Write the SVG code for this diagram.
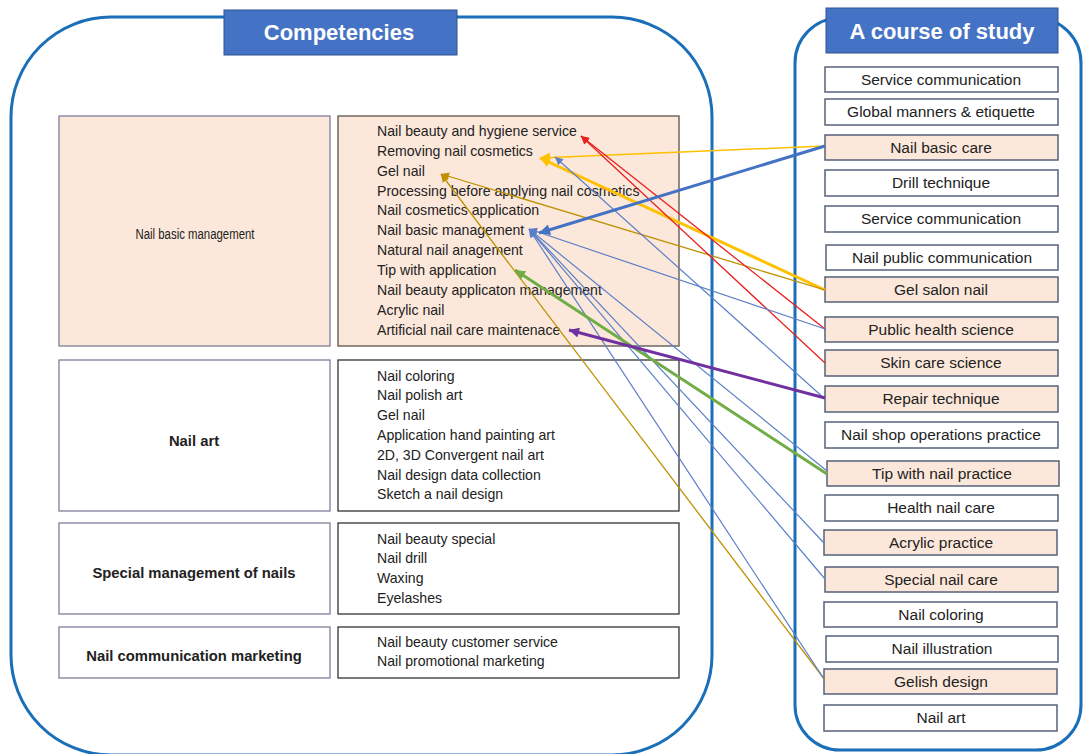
<svg xmlns="http://www.w3.org/2000/svg" width="1084" height="754" viewBox="0 0 1084 754">
<style>
text{font-family:"Liberation Sans",Arial,sans-serif;fill:#222}
.cont{fill:none;stroke:#1a6fb8;stroke-width:3}
.hdr{fill:#4472c4;stroke:#2f528f;stroke-width:1}
.hdrt{fill:#fff;font-weight:bold;font-size:22px;text-anchor:middle}
.pk{fill:#fce8da}
.wh{fill:#fff}
.lb{stroke:#7f7f9a;stroke-width:1.3}
.bk{stroke:#333;stroke-width:1.3}
.it{font-size:14.1px}
.lab{font-size:14.8px;font-weight:bold;text-anchor:middle}
.cb{stroke:#55607a;stroke-width:1.5}
.ct{font-size:15.5px;text-anchor:middle}
.c line{fill:none}
</style>
<defs>
<marker id="mR" viewBox="0 0 10 10" refX="10" refY="5" markerWidth="10" markerHeight="8" markerUnits="userSpaceOnUse" orient="auto"><path d="M0,0L10,5L0,10z" fill="#e8201e"/></marker>
<marker id="mY" viewBox="0 0 10 10" refX="10" refY="5" markerWidth="12" markerHeight="10" markerUnits="userSpaceOnUse" orient="auto"><path d="M0,0L10,5L0,10z" fill="#ffc000"/></marker>
<marker id="mG" viewBox="0 0 10 10" refX="10" refY="5" markerWidth="10" markerHeight="8" markerUnits="userSpaceOnUse" orient="auto"><path d="M0,0L10,5L0,10z" fill="#bf9000"/></marker>
<marker id="mB" viewBox="0 0 10 10" refX="10" refY="5" markerWidth="13" markerHeight="11" markerUnits="userSpaceOnUse" orient="auto"><path d="M0,0L10,5L0,10z" fill="#4472c4"/></marker>
<marker id="mb" viewBox="0 0 10 10" refX="10" refY="5" markerWidth="10" markerHeight="8" markerUnits="userSpaceOnUse" orient="auto"><path d="M0,0L10,5L0,10z" fill="#5b7fc8"/></marker>
<marker id="mGr" viewBox="0 0 10 10" refX="10" refY="5" markerWidth="12" markerHeight="10" markerUnits="userSpaceOnUse" orient="auto"><path d="M0,0L10,5L0,10z" fill="#70ad47"/></marker>
<marker id="mP" viewBox="0 0 10 10" refX="10" refY="5" markerWidth="12" markerHeight="10" markerUnits="userSpaceOnUse" orient="auto"><path d="M0,0L10,5L0,10z" fill="#7030a0"/></marker>
</defs>
<rect width="1084" height="754" fill="#fff"/>

<g id="containers">
<rect class="cont" x="11" y="17" width="701" height="738" rx="100" ry="100"/>
<rect class="cont" x="795" y="18" width="286" height="732" rx="45" ry="45"/>
</g>

<g id="hdr-competencies">
<rect class="hdr" x="224" y="10" width="233" height="45"/>
<text class="hdrt" x="339" y="40">Competencies</text>
</g>
<g id="hdr-course">
<rect class="hdr" x="826" y="8" width="232" height="45"/>
<text class="hdrt" x="942" y="39">A course of study</text>
</g>

<g id="comp-basic">
<rect class="pk lb" x="59" y="116" width="271" height="230"/>
<text x="195" y="239" font-size="14" fill="#000" text-anchor="middle" textLength="119" lengthAdjust="spacingAndGlyphs">Nail basic management</text>
</g>
<g id="list-basic">
<rect class="pk" x="338" y="116" width="341" height="230" stroke="#5a5048" stroke-width="1.3"/>
<text class="it" x="377" y="136">Nail beauty and hygiene service</text>
<text class="it" x="377" y="156">Removing nail cosmetics</text>
<text class="it" x="377" y="176">Gel nail</text>
<text class="it" x="377" y="196">Processing before applying nail cosmetics</text>
<text class="it" x="377" y="215">Nail cosmetics application</text>
<text class="it" x="377" y="235">Nail basic management</text>
<text class="it" x="377" y="255">Natural nail anagement</text>
<text class="it" x="377" y="275">Tip with application</text>
<text class="it" x="377" y="295">Nail beauty applicaton management</text>
<text class="it" x="377" y="315">Acrylic nail</text>
<text class="it" x="377" y="335">Artificial nail care maintenace</text>
</g>

<g id="comp-art">
<rect class="wh lb" x="59" y="360" width="271" height="151"/>
<text class="lab" x="194" y="446">Nail art</text>
</g>
<g id="list-art">
<rect class="wh bk" x="338" y="360" width="341" height="151"/>
<text class="it" x="377" y="381">Nail coloring</text>
<text class="it" x="377" y="400">Nail polish art</text>
<text class="it" x="377" y="420">Gel nail</text>
<text class="it" x="377" y="440">Application hand painting art</text>
<text class="it" x="377" y="460">2D, 3D Convergent nail art</text>
<text class="it" x="377" y="480">Nail design data collection</text>
<text class="it" x="377" y="499">Sketch a nail design</text>
</g>

<g id="comp-special">
<rect class="wh lb" x="59" y="523" width="271" height="91"/>
<text class="lab" x="194" y="578">Special management of nails</text>
</g>
<g id="list-special">
<rect class="wh bk" x="338" y="523" width="341" height="91"/>
<text class="it" x="377" y="544">Nail beauty special</text>
<text class="it" x="377" y="563">Nail drill</text>
<text class="it" x="377" y="583">Waxing</text>
<text class="it" x="377" y="603">Eyelashes</text>
</g>

<g id="comp-comm">
<rect class="wh lb" x="59" y="627" width="271" height="51"/>
<text class="lab" x="194" y="661">Nail communication marketing</text>
</g>
<g id="list-comm">
<rect class="wh bk" x="338" y="627" width="341" height="51"/>
<text class="it" x="377" y="647">Nail beauty customer service</text>
<text class="it" x="377" y="666">Nail promotional marketing</text>
</g>

<g id="course-1"><rect class="wh cb" x="825" y="67" width="233" height="25"/><text class="ct" x="941" y="85">Service communication</text></g>
<g id="course-2"><rect class="wh cb" x="825" y="99" width="233" height="26"/><text class="ct" x="941" y="117">Global manners &amp; etiquette</text></g>
<g id="course-3"><rect class="pk cb" x="825" y="135" width="233" height="25"/><text class="ct" x="941" y="153">Nail basic care</text></g>
<g id="course-4"><rect class="wh cb" x="825" y="170" width="233" height="26"/><text class="ct" x="941" y="188">Drill technique</text></g>
<g id="course-5"><rect class="wh cb" x="825" y="206" width="233" height="26"/><text class="ct" x="941" y="224">Service communication</text></g>
<g id="course-6"><rect class="wh cb" x="826" y="245" width="232" height="25"/><text class="ct" x="942" y="263">Nail public communication</text></g>
<g id="course-7"><rect class="pk cb" x="825" y="277" width="233" height="25"/><text class="ct" x="941" y="295">Gel salon nail</text></g>
<g id="course-8"><rect class="pk cb" x="825" y="317" width="233" height="25"/><text class="ct" x="941" y="335">Public health science</text></g>
<g id="course-9"><rect class="pk cb" x="825" y="350" width="233" height="26"/><text class="ct" x="941" y="368">Skin care science</text></g>
<g id="course-10"><rect class="pk cb" x="825" y="386" width="233" height="26"/><text class="ct" x="941" y="404">Repair technique</text></g>
<g id="course-11"><rect class="wh cb" x="825" y="422" width="233" height="26"/><text class="ct" x="941" y="440">Nail shop operations practice</text></g>
<g id="course-12"><rect class="pk cb" x="827" y="461" width="232" height="25"/><text class="ct" x="942" y="479">Tip with nail practice</text></g>
<g id="course-13"><rect class="wh cb" x="825" y="495" width="233" height="26"/><text class="ct" x="941" y="513">Health nail care</text></g>
<g id="course-14"><rect class="pk cb" x="824" y="530" width="233" height="25"/><text class="ct" x="941" y="548">Acrylic practice</text></g>
<g id="course-15"><rect class="pk cb" x="825" y="567" width="233" height="25"/><text class="ct" x="941" y="585">Special nail care</text></g>
<g id="course-16"><rect class="wh cb" x="824" y="602" width="233" height="25"/><text class="ct" x="941" y="620">Nail coloring</text></g>
<g id="course-17"><rect class="wh cb" x="826" y="636" width="232" height="26"/><text class="ct" x="942" y="654">Nail illustration</text></g>
<g id="course-18"><rect class="pk cb" x="824" y="669" width="233" height="25"/><text class="ct" x="941" y="687">Gelish design</text></g>
<g id="course-19"><rect class="wh cb" x="824" y="705" width="233" height="26"/><text class="ct" x="941" y="723">Nail art</text></g>

<g id="connectors" class="c">
<line x1="825" y1="146" x2="540" y2="158" stroke="#ffc000" stroke-width="1.5" marker-end="url(#mY)"/>
<line x1="825" y1="290" x2="540" y2="158" stroke="#ffc000" stroke-width="3" marker-end="url(#mY)"/>
<line x1="825" y1="290" x2="441" y2="174" stroke="#bf9000" stroke-width="1.3" marker-end="url(#mG)"/>
<line x1="825" y1="680" x2="441" y2="174" stroke="#bf9000" stroke-width="1.3" marker-end="url(#mG)"/>
<line x1="825" y1="329" x2="581" y2="136" stroke="#e8201e" stroke-width="1.3" marker-end="url(#mR)"/>
<line x1="825" y1="363" x2="581" y2="136" stroke="#e8201e" stroke-width="1.3" marker-end="url(#mR)"/>
<line x1="825" y1="399" x2="555" y2="157" stroke="#5b7fc8" stroke-width="1.2" marker-end="url(#mb)"/>
<line x1="825" y1="329" x2="529" y2="229" stroke="#5b7fc8" stroke-width="1.2" marker-end="url(#mb)"/>
<line x1="827" y1="471" x2="529" y2="229" stroke="#5b7fc8" stroke-width="1.2" marker-end="url(#mb)"/>
<line x1="824" y1="543" x2="529" y2="229" stroke="#5b7fc8" stroke-width="1.2" marker-end="url(#mb)"/>
<line x1="825" y1="579" x2="529" y2="229" stroke="#5b7fc8" stroke-width="1.2" marker-end="url(#mb)"/>
<line x1="824" y1="679" x2="529" y2="229" stroke="#5b7fc8" stroke-width="1.2" marker-end="url(#mb)"/>
<line x1="825" y1="146" x2="539" y2="233" stroke="#4472c4" stroke-width="3" marker-end="url(#mB)"/>
<line x1="827" y1="474" x2="515" y2="270" stroke="#70ad47" stroke-width="3" marker-end="url(#mGr)"/>
<line x1="825" y1="398" x2="569" y2="330" stroke="#7030a0" stroke-width="3" marker-end="url(#mP)"/>
</g>
</svg>
